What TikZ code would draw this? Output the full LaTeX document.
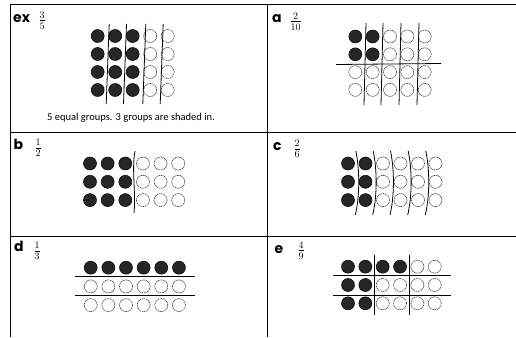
\documentclass[tikz,border=0pt]{standalone}
\usepackage{amsmath}
\usepackage{fontspec}
\setmainfont{Carlito}
\newfontfamily\tagfont{Poppins}
\usetikzlibrary{positioning}

\tikzset{
  shaded/.style={fill=black!85, draw=black, line width=0.5pt},
  blank/.style={draw=black!75, dash pattern=on 1.2pt off 0.6pt, line width=0.6pt},
  cutline/.style={line width=0.8pt},
  boxline/.style={line width=1pt},
  tag/.style={anchor=base west, inner sep=0pt, font=\tagfont\bfseries\fontsize{14}{14}\selectfont},
  frac/.style={inner sep=0pt, font=\fontsize{14}{14}\selectfont}
}

\begin{document}
\begin{tikzpicture}[x=1pt, y=-1pt]
  \useasboundingbox (0,0) rectangle (516,337);

  % Draw the table lines
  \draw[boxline] (10,5) -- (516,5);
  \draw[boxline] (10,132) -- (516,132);
  \draw[boxline] (10,236) -- (516,236);
  \draw[boxline] (10,5) -- (10,337);
  \draw[boxline] (267,5) -- (267,337);

  % Labels and fractions
  \node[tag] (ex) at (13,23) {ex};
  \node[frac] (exfrac) at (42,20.5) {$\frac{3}{5}$};
  \node[tag] (a) at (272,23) {a};
  \node[frac] (afrac) at (295.5,21.5) {$\frac{2}{10}$};
  \node[tag] (b) at (13.5,149.5) {b};
  \node[frac] (bfrac) at (38,148) {$\frac{1}{2}$};
  \node[tag] (c) at (273,150) {c};
  \node[frac] (cfrac) at (297,149) {$\frac{2}{6}$};
  \node[tag] (d) at (14,251.5) {d};
  \node[frac] (dfrac) at (37,251) {$\frac{1}{3}$};
  \node[tag] (e) at (274.5,253) {e};
  \node[frac] (efrac) at (301,250.5) {$\frac{4}{9}$};

  % ex: 5 groups of 4, 3 shaded
  \foreach \col in {0,1,2}
    \foreach \row in {0,...,3}
      \draw[shaded] (97.7+17.5*\col, 36+18*\row) circle (6.5pt);
  \foreach \col in {3,4}
    \foreach \row in {0,...,3}
      \draw[blank] (97.7+17.5*\col, 36+18*\row) circle (6.5pt);
  \foreach \x in {107.7,125,144.3,161.7}
    \draw[cutline] (\x+1.5,24) -- (\x-1.5,104);
  \node[font=\fontsize{10.5}{10.5}\selectfont] (exnote) at (131,118) {5 equal groups. 3 groups are shaded in.};

  % a: 10 groups of 2, 2 shaded
  \foreach \col in {0,1}
    \foreach \row in {0,1}
      \draw[shaded] (355.3+17.35*\col, 36.5+17.8*\row) circle (6.5pt);
  \foreach \col in {2,3,4}
    \foreach \row in {0,1}
      \draw[blank] (355.3+17.35*\col, 36.5+17.8*\row) circle (6.5pt);
  \foreach \col in {0,...,4}
    \foreach \row in {2,3}
      \draw[blank] (355.3+17.35*\col, 36.5+17.8*\row) circle (6.5pt);
  \draw[cutline] (336,64.5) -- (441,63.5);
  \foreach \x in {365,382,400,418}
    \draw[cutline] (\x+1,23) -- (\x-1,105);

  % b: 2 groups of 9, 1 shaded
  \foreach \col in {0,1,2}
    \foreach \row in {0,1,2}
      \draw[shaded] (90+17.65*\col, 163.5+18.3*\row) circle (6.5pt);
  \foreach \col in {3,4,5}
    \foreach \row in {0,1,2}
      \draw[blank] (90+17.65*\col, 163.5+18.3*\row) circle (6.5pt);
  \draw[cutline] (135,151) .. controls (131.5,170) and (136,192) .. (134,213);

  % c: 6 groups of 3, 2 shaded
  \foreach \col in {0,1}
    \foreach \row in {0,1,2}
      \draw[shaded] (348+17.5*\col, 163.5+18.3*\row) circle (6.5pt);
  \foreach \col in {2,...,5}
    \foreach \row in {0,1,2}
      \draw[blank] (348+17.5*\col, 163.5+18.3*\row) circle (6.5pt);
  \foreach \x in {357.3,374.7,392,409.7,427.3}
    \draw[cutline] (\x-1.5,151) .. controls (\x+2.5,170) and (\x+2.5,196) .. (\x-2,215);

  % d: 3 groups of 6, 1 shaded
  \foreach \col in {0,...,5}
    \draw[shaded] (90.7+17.65*\col, 267.7) circle (6.5pt);
  \foreach \col in {0,...,5}
    \foreach \row in {1,2}
      \draw[blank] (90.7+17.65*\col, 267.7+18.7*\row) circle (6.5pt);
  \draw[cutline] (75,276) -- (195,276);
  \draw[cutline] (75,295.5) -- (195,295.5);

  % e: 9 groups of 2, 4 shaded
  \foreach \col in {0,...,3}
    \draw[shaded] (348+17.35*\col, 266.7) circle (6.5pt);
  \foreach \col in {4,5}
    \draw[blank] (348+17.35*\col, 266.7) circle (6.5pt);
  \foreach \col in {0,1}
    \foreach \row in {1,2}
      \draw[shaded] (348+17.35*\col, 266.7+18.3*\row) circle (6.5pt);
  \foreach \col in {2,...,5}
    \foreach \row in {1,2}
      \draw[blank] (348+17.35*\col, 266.7+18.3*\row) circle (6.5pt);
  \draw[cutline] (333,275.5) -- (451,275.5);
  \draw[cutline] (333,295) -- (451,295);
  \foreach \x in {374,409.7}
    \draw[cutline] (\x,255) -- (\x,315);
\end{tikzpicture}
\end{document}
